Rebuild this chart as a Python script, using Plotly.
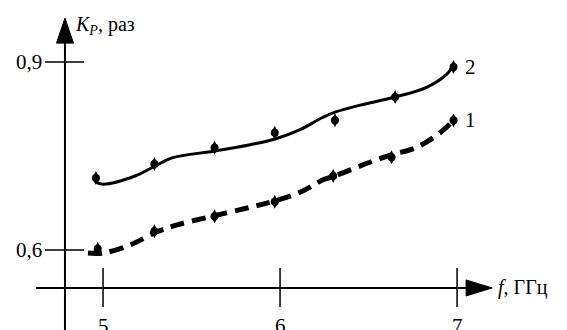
import plotly.graph_objects as go

# ---- data ----
x_ticks = [5, 6, 7]
x_tick_labels = ["5", "6", "7"]
y_ticks = [0.6, 0.9]
y_tick_labels = ["0,6", "0,9"]

# measured points, curve 1 (dashed) and curve 2 (solid)
f_pts1 = [4.97, 5.29, 5.63, 5.97, 6.30, 6.63, 6.98]
k_pts1 = [0.602, 0.630, 0.654, 0.677, 0.718, 0.748, 0.807]
f_pts2 = [4.96, 5.29, 5.63, 5.97, 6.31, 6.65, 6.98]
k_pts2 = [0.715, 0.737, 0.763, 0.787, 0.807, 0.844, 0.892]

# approximating (trend) curves
f_line1 = [4.915, 5.0, 5.153, 5.305, 5.418, 5.605, 5.814, 5.955, 6.113, 6.243,
           6.299, 6.508, 6.633, 6.774, 6.904, 6.96]
k_line1 = [0.595, 0.595, 0.608, 0.629, 0.640, 0.653, 0.667, 0.677, 0.692, 0.712,
           0.717, 0.740, 0.752, 0.764, 0.787, 0.801]
f_line2 = [4.955, 5.0, 5.181, 5.294, 5.390, 5.633, 5.831, 5.972, 6.113, 6.237,
           6.311, 6.480, 6.650, 6.831, 6.944, 6.977]
k_line2 = [0.709, 0.705, 0.718, 0.734, 0.747, 0.758, 0.768, 0.777, 0.792, 0.811,
           0.820, 0.833, 0.844, 0.860, 0.881, 0.894]

# ---- geometry ----
X_RANGE = [4.418, 7.621]
Y_RANGE = [0.4723, 0.9989]
Y_AXIS_X = 4.785      # where the vertical axis stands
X_AXIS_Y = 0.5394     # where the horizontal axis lies
Y_ARROW_TIP = 0.970
X_ARROW_TIP = 7.198
X_AXIS_START = 4.621

FONT = "'Liberation Serif', 'Times New Roman', 'DejaVu Serif', serif"

fig = go.Figure()

fig.add_trace(go.Scatter(x=f_line2, y=k_line2, mode="lines",
                         line=dict(color="black", width=3, shape="spline", smoothing=1.0),
                         hoverinfo="skip"))
fig.add_trace(go.Scatter(x=f_line1, y=k_line1, mode="lines",
                         line=dict(color="black", width=5, shape="spline", smoothing=1.0,
                                   dash="14px,8px"),
                         hoverinfo="skip"))
for fx, ky in ((f_pts1, k_pts1), (f_pts2, k_pts2)):
    fig.add_trace(go.Scatter(x=fx, y=ky, mode="markers",
                             marker=dict(symbol="circle", size=8, color="black"),
                             hoverinfo="skip"))
    fig.add_trace(go.Scatter(x=fx, y=ky, mode="markers",
                             marker=dict(symbol="diamond-tall", size=10, color="black"),
                             hoverinfo="skip"))

shapes = []
# axes lines
shapes.append(dict(type="line", xref="x", yref="y", x0=Y_AXIS_X, x1=Y_AXIS_X,
                   y0=Y_RANGE[0], y1=Y_ARROW_TIP - 0.03, line=dict(color="black", width=2)))
shapes.append(dict(type="line", xref="x", yref="y", x0=X_AXIS_START, x1=X_ARROW_TIP - 0.1,
                   y0=X_AXIS_Y, y1=X_AXIS_Y, line=dict(color="black", width=2)))
# arrow heads (pixel sized, anchored at tips)
shapes.append(dict(type="path", xref="x", yref="y", xsizemode="pixel", ysizemode="pixel",
                   xanchor=Y_AXIS_X, yanchor=Y_ARROW_TIP,
                   path="M 0 0 L -8.5 -25 L 8.5 -25 Z",
                   fillcolor="black", line=dict(color="black", width=1)))
shapes.append(dict(type="path", xref="x", yref="y", xsizemode="pixel", ysizemode="pixel",
                   xanchor=X_ARROW_TIP, yanchor=X_AXIS_Y,
                   path="M 0 0 L -26 8 L -26 -8 Z",
                   fillcolor="black", line=dict(color="black", width=1)))
# ticks crossing the axes
for yt in y_ticks:
    shapes.append(dict(type="line", xref="x", yref="y", xsizemode="pixel",
                       xanchor=Y_AXIS_X, x0=-20, x1=19, y0=yt, y1=yt,
                       line=dict(color="black", width=1.5)))
for xt in x_ticks:
    shapes.append(dict(type="line", xref="x", yref="y", ysizemode="pixel",
                       yanchor=X_AXIS_Y, y0=20, y1=-19, x0=xt, x1=xt,
                       line=dict(color="black", width=1.5)))

annotations = []
for yt, lab in zip(y_ticks, y_tick_labels):
    annotations.append(dict(x=Y_AXIS_X, y=yt, xref="x", yref="y", text=lab,
                            showarrow=False, xanchor="right", yanchor="middle",
                            xshift=-21, font=dict(family=FONT, size=21, color="black")))
for xt, lab in zip(x_ticks, x_tick_labels):
    annotations.append(dict(x=xt, y=X_AXIS_Y, xref="x", yref="y", text=lab,
                            showarrow=False, xanchor="center", yanchor="top",
                            yshift=-24, font=dict(family=FONT, size=21, color="black")))
annotations.append(dict(x=Y_AXIS_X, y=Y_ARROW_TIP, xref="x", yref="y",
                        text="<i>K</i><sub><i>P</i></sub>, раз", showarrow=False,
                        xanchor="left", yanchor="middle", xshift=8, yshift=-7,
                        font=dict(family=FONT, size=20, color="black")))
annotations.append(dict(x=X_ARROW_TIP, y=X_AXIS_Y, xref="x", yref="y",
                        text="<i>f</i>, ГГц", showarrow=False,
                        xanchor="left", yanchor="middle", xshift=4,
                        font=dict(family=FONT, size=20, color="black")))
annotations.append(dict(x=f_pts2[-1], y=k_pts2[-1], xref="x", yref="y", text="2",
                        showarrow=False, xanchor="left", yanchor="middle", xshift=9,
                        font=dict(family=FONT, size=21, color="black")))
annotations.append(dict(x=f_pts1[-1], y=k_pts1[-1], xref="x", yref="y", text="1",
                        showarrow=False, xanchor="left", yanchor="middle", xshift=9,
                        font=dict(family=FONT, size=21, color="black")))

fig.update_layout(
    width=567, height=330, autosize=False,
    margin=dict(l=0, r=0, t=0, b=0),
    paper_bgcolor="white", plot_bgcolor="white",
    showlegend=False,
    font=dict(family=FONT),
    xaxis=dict(range=X_RANGE, visible=False, fixedrange=True),
    yaxis=dict(range=Y_RANGE, visible=False, fixedrange=True),
    shapes=shapes, annotations=annotations,
)

fig.write_html("out.html", config={"displayModeBar": False},
               post_script="document.body.style.margin='0';")
